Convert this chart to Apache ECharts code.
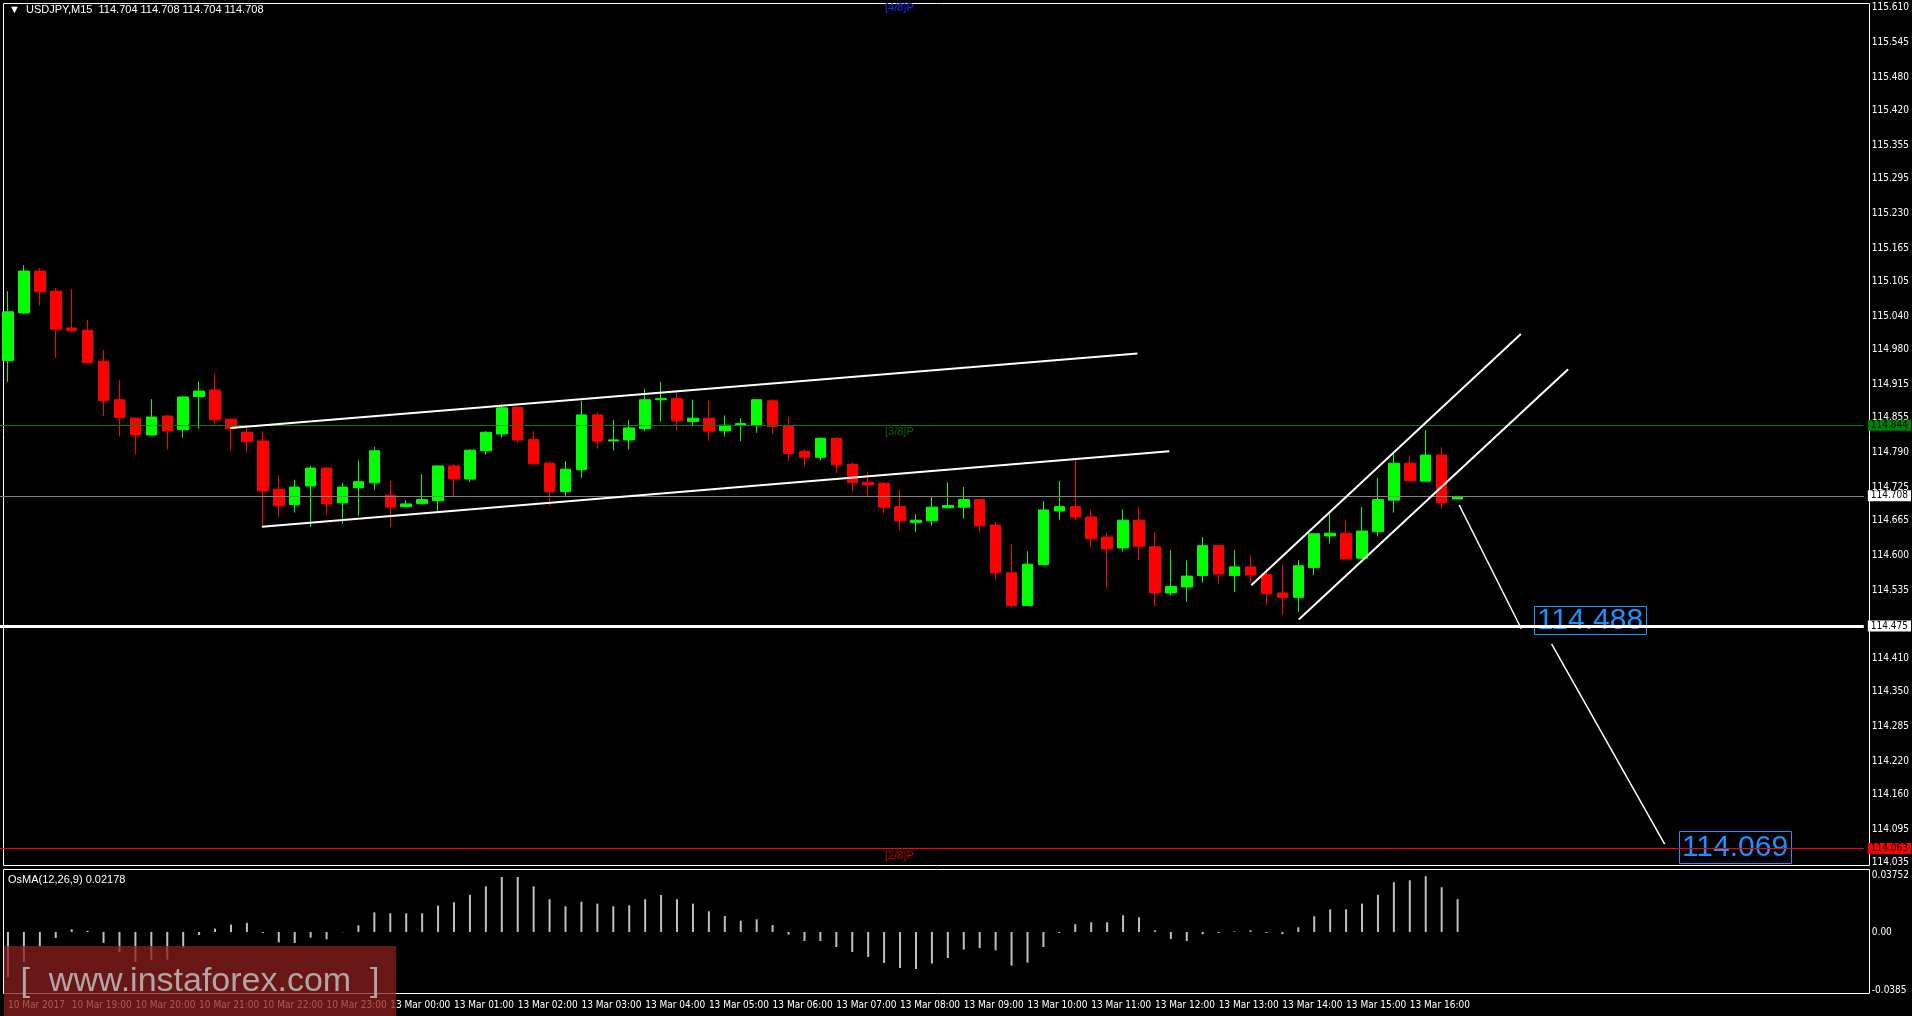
<!DOCTYPE html>
<html><head><meta charset="utf-8">
<script src="https://cdn.jsdelivr.net/npm/echarts@6/dist/echarts.min.js"></script>
<style>html,body{margin:0;padding:0;background:#000;}#c{width:1912px;height:1016px;}</style>
</head><body><div id="c"></div>
<script>
// OHLC per 15-min bar: [open, close, low, high]
const candles = [
[114.959,115.049,114.920,115.087],[115.047,115.124,115.045,115.135],[115.124,115.086,115.061,115.130],
[115.087,115.017,114.964,115.093],[115.019,115.014,115.013,115.091],[115.015,114.955,114.953,115.034],
[114.958,114.885,114.857,114.979],[114.887,114.854,114.819,114.923],[114.853,114.822,114.786,114.854],
[114.822,114.855,114.821,114.888],[114.857,114.830,114.795,114.858],[114.832,114.892,114.817,114.893],
[114.893,114.903,114.834,114.921],[114.905,114.850,114.841,114.934],[114.851,114.834,114.793,114.852],
[114.827,114.810,114.789,114.838],[114.811,114.719,114.653,114.829],[114.722,114.692,114.670,114.748],
[114.694,114.726,114.679,114.739],[114.728,114.761,114.653,114.765],[114.761,114.695,114.675,114.762],
[114.697,114.726,114.659,114.734],[114.725,114.736,114.673,114.775],[114.734,114.793,114.721,114.800],
[114.711,114.689,114.653,114.737],[114.690,114.695,114.689,114.702],[114.696,114.703,114.694,114.750],
[114.701,114.765,114.681,114.766],[114.765,114.741,114.710,114.768],[114.741,114.794,114.736,114.796],
[114.793,114.827,114.786,114.829],[114.824,114.872,114.817,114.879],[114.873,114.813,114.808,114.875],
[114.814,114.769,114.767,114.829],[114.770,114.718,114.692,114.774],[114.718,114.759,114.710,114.774],
[114.758,114.859,114.743,114.885],[114.859,114.811,114.797,114.864],[114.811,114.813,114.793,114.850],
[114.813,114.835,114.795,114.850],[114.834,114.887,114.829,114.907],[114.887,114.889,114.847,114.920],
[114.889,114.849,114.830,114.901],[114.847,114.853,114.838,114.887],[114.853,114.829,114.811,114.885],
[114.830,114.840,114.819,114.858],[114.840,114.843,114.811,114.853],[114.840,114.887,114.826,114.888],
[114.885,114.838,114.824,114.888],[114.839,114.788,114.775,114.855],[114.792,114.781,114.764,114.796],
[114.781,114.816,114.775,114.817],[114.816,114.767,114.752,114.817],[114.768,114.734,114.718,114.771],
[114.735,114.730,114.710,114.754],[114.733,114.689,114.677,114.736],[114.690,114.664,114.647,114.721],
[114.661,114.665,114.643,114.676],[114.664,114.689,114.655,114.708],[114.688,114.692,114.687,114.734],
[114.689,114.703,114.668,114.726],[114.703,114.655,114.642,114.704],[114.656,114.568,114.555,114.662],
[114.568,114.508,114.504,114.620],[114.508,114.584,114.507,114.608],[114.583,114.684,114.582,114.700],
[114.682,114.690,114.666,114.737],[114.690,114.671,114.666,114.776],[114.671,114.631,114.616,114.684],
[114.634,114.612,114.541,114.642],[114.614,114.665,114.607,114.685],[114.665,114.617,114.591,114.690],
[114.616,114.531,114.507,114.643],[114.531,114.543,114.527,114.610],[114.542,114.562,114.515,114.591],
[114.563,114.618,114.550,114.634],[114.618,114.566,114.548,114.619],[114.563,114.579,114.533,114.610],
[114.579,114.564,114.550,114.601],[114.565,114.530,114.509,114.576],[114.531,114.523,114.491,114.583],
[114.523,114.581,114.496,114.592],[114.578,114.640,114.564,114.641],[114.636,114.641,114.622,114.677],
[114.641,114.594,114.593,114.665],[114.595,114.645,114.594,114.689],[114.644,114.703,114.635,114.743],
[114.702,114.770,114.679,114.787],[114.770,114.738,114.737,114.783],[114.737,114.785,114.736,114.831],
[114.785,114.697,114.686,114.800],[114.704,114.708,114.704,114.708]
];
const osma = [-0.030,-0.020,-0.0095,-0.004,0.0018,0.0007,-0.0073,-0.0133,-0.020,-0.0188,-0.0184,-0.0104,
-0.002,0.0022,0.0049,0.006,-0.0007,-0.0069,-0.0073,-0.0038,-0.0049,-0.0002,0.0044,0.013,0.0124,0.0124,
0.0124,0.0175,0.0197,0.0246,0.0303,0.0365,0.0365,0.0303,0.0217,0.017,0.0201,0.0188,0.017,0.0177,0.0217,
0.0246,0.0217,0.0188,0.0137,0.0106,0.0075,0.0084,0.0046,-0.0018,-0.006,-0.006,-0.010,-0.0133,-0.0166,
-0.0206,-0.0239,-0.0246,-0.021,-0.0173,-0.0117,-0.0106,-0.0122,-0.0224,-0.0204,-0.010,-0.0007,0.0051,
0.0064,0.0064,0.011,0.0097,0.0011,-0.0046,-0.006,-0.0015,-0.0007,0.0004,0.0011,-0.0007,-0.0015,0.0031,
0.0104,0.015,0.015,0.0188,0.0246,0.033,0.0343,0.037,0.0297,0.02178];
const timeLabels = ['10 Mar 2017','10 Mar 19:00','10 Mar 20:00','10 Mar 21:00','10 Mar 22:00','10 Mar 23:00',
'13 Mar 00:00','13 Mar 01:00','13 Mar 02:00','13 Mar 03:00','13 Mar 04:00','13 Mar 05:00','13 Mar 06:00',
'13 Mar 07:00','13 Mar 08:00','13 Mar 09:00','13 Mar 10:00','13 Mar 11:00','13 Mar 12:00','13 Mar 13:00',
'13 Mar 14:00','13 Mar 15:00','13 Mar 16:00'];
const priceTicks = [115.610,115.545,115.480,115.420,115.355,115.295,115.230,115.165,115.105,115.040,114.980,
114.915,114.855,114.790,114.725,114.665,114.600,114.535,114.410,114.350,114.285,114.220,114.160,114.095,114.035];
const osmaTicks = [0.03752,0,-0.0385];
const levels = [
  {v:114.844, color:'#008000', w:1, bg:'#008000', fg:'#000'},
  {v:114.708, color:'#808080', w:1, bg:'#ffffff', fg:'#000'},
  {v:114.475, color:'#ffffff', w:3, bg:'#ffffff', fg:'#000'},
  {v:114.063, color:'#ff0000', w:1, bg:'#ff0000', fg:'#000'}
];
// trend lines: [barIndex, price]
const channel1Upper = [[13.96,114.835],[70.9,114.972]];
const channel1Lower = [[15.94,114.653],[72.9,114.792]];
const channel2Upper = [[78.05,114.545],[94.97,115.008]];
const channel2Lower = [[81.03,114.482],[97.94,114.943]];
const projection1 = [[91.1,114.693],[95.0,114.465]];
const projection2 = [[96.9,114.437],[104.0,114.068]];
const targets = ['114.488','114.069'];

const N = 117;
const cats = Array.from({length:N},(_,i)=>String(i));
const FONT = 'Liberation Sans';
const CFONT = 'DejaVu Sans Condensed';
const lineS = (d,w)=>({type:'line',xAxisIndex:1,yAxisIndex:0,data:d,symbol:'none',silent:true,
  lineStyle:{color:'#fff',width:w||2},z:5});
const showIdx = (i)=>i%4===0&&i<=88;
const chart = echarts.init(document.getElementById('c'));
chart.setOption({
  backgroundColor:'#000', animation:false,
  grid:[{left:-4.5,width:1872,top:4,height:862},{left:-4.5,width:1872,top:869,height:125}],
  xAxis:[
    {type:'category',data:cats,gridIndex:0,boundaryGap:true,axisLine:{show:false},axisTick:{show:false},axisLabel:{show:false}},
    {type:'value',gridIndex:0,min:-0.5,max:N-0.5,show:false},
    {type:'category',data:cats,gridIndex:1,boundaryGap:true,axisLine:{show:false},
     axisTick:{show:false},
     axisLabel:{interval:(i)=>showIdx(i),hideOverlap:false,formatter:(v,i)=>timeLabels[Math.round(+v/4)]||'',align:'left',
       color:'#fff',fontSize:10,fontFamily:CFONT,margin:6}}
  ],
  yAxis:[
    {type:'value',gridIndex:0,position:'right',min:114.0279,max:115.6161,splitLine:{show:false},
     axisLine:{show:false},axisTick:{show:false},
     axisLabel:{customValues:priceTicks,formatter:(v)=>v.toFixed(3),color:'#fff',fontSize:10,fontFamily:CFONT,margin:8}},
    {type:'value',gridIndex:1,position:'right',min:-0.0412,max:0.0418,splitLine:{show:false},
     axisLine:{show:false},axisTick:{show:false},
     axisLabel:{customValues:osmaTicks,formatter:(v)=>v===0?'0.00':String(v),color:'#fff',fontSize:10,fontFamily:CFONT,margin:8}}
  ],
  series:[
    {type:'candlestick',xAxisIndex:0,yAxisIndex:0,data:candles,barWidth:11,z:3,
     itemStyle:{color:'#00ff00',color0:'#ff0000',borderColor:'#00ff00',borderColor0:'#ff0000',borderWidth:1},
     markLine:{silent:true,symbol:'none',animation:false,
       data:levels.map(l=>({yAxis:l.v,lineStyle:{color:l.color,width:l.w,type:'solid'},
         label:{show:true,position:'end',distance:4,formatter:l.v.toFixed(3),backgroundColor:l.bg,color:l.fg,
           fontSize:10,fontFamily:CFONT,padding:[1,3,0,3]}}))}},
    lineS(channel1Upper),lineS(channel1Lower),lineS(channel2Upper),lineS(channel2Lower),
    lineS(projection1,1.5),lineS(projection2,1.5),
    {type:'bar',xAxisIndex:2,yAxisIndex:1,data:osma,barWidth:2,itemStyle:{color:'#c0c0c0'},silent:true}
  ],
  graphic:[
    {type:'rect',shape:{x:3.5,y:3.5,width:1866,height:862},style:{fill:'none',stroke:'#fff',lineWidth:1},silent:true},
    {type:'rect',shape:{x:3.5,y:869.5,width:1866,height:124},style:{fill:'none',stroke:'#fff',lineWidth:1},silent:true},
    {type:'text',x:9,y:4,style:{text:'▼  USDJPY,M15  114.704 114.708 114.704 114.708',fill:'#fff',font:'11px '+FONT}},
    {type:'text',x:8,y:874,style:{text:'OsMA(12,26,9) 0.02178',fill:'#fff',font:'11px '+FONT}},
    {type:'text',x:885,y:2,style:{text:'[4/8]P',fill:'#1030ff',font:'11px '+FONT}},
    {type:'text',x:885,y:426,style:{text:'[3/8]P',fill:'#006400',font:'11px '+FONT}},
    {type:'text',x:885,y:850,style:{text:'[2/8]P',fill:'#cc0000',font:'11px '+FONT}},
    {type:'rect',shape:{x:1534.5,y:606.5,width:112,height:28},style:{fill:'none',stroke:'#1e90ff',lineWidth:1}},
    {type:'text',x:1590,y:621,style:{text:targets[0],fill:'#1e90ff',font:'30px '+FONT,align:'center',verticalAlign:'middle'}},
    {type:'rect',shape:{x:1679.5,y:831.5,width:112,height:32},style:{fill:'none',stroke:'#1e90ff',lineWidth:1}},
    {type:'text',x:1735,y:848,style:{text:targets[1],fill:'#1e90ff',font:'30px '+FONT,align:'center',verticalAlign:'middle'}},
    {type:'rect',shape:{x:4,y:946,width:392,height:70},style:{fill:'rgba(140,30,30,0.75)'},z:50},
    {type:'text',x:200,y:982,z:51,style:{text:'[  www.instaforex.com  ]',fill:'rgba(190,190,190,0.85)',font:'34px '+FONT,align:'center',verticalAlign:'middle'}}
  ]
});
</script></body></html>
